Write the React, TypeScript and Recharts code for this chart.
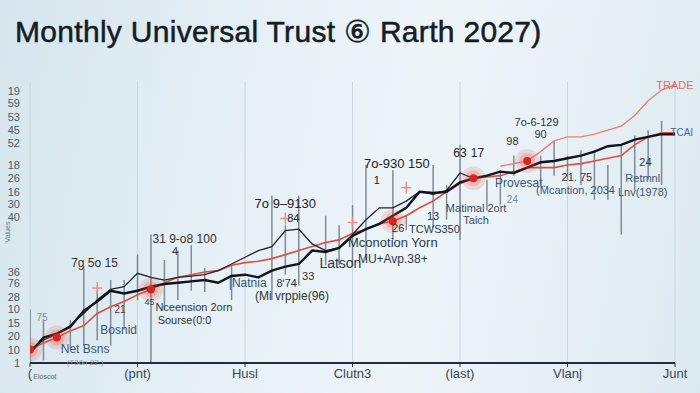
import React from "react";
import {
  ComposedChart,
  Line,
  Bar,
  XAxis,
  YAxis,
  CartesianGrid,
  ReferenceDot,
} from "recharts";

// x positions are month steps 0..48
const steps = Array.from({ length: 49 }, (_, i) => i);

const xTickValues = [0, 8, 16, 24, 32, 40, 48];
const xTickLabels = ["(", "(pnt)", "Husl", "Clutn3", "(last)", "Vlanj", "Junt"];

const yTickValues = [0, 1, 2, 3, 4, 4.9, 6, 6.8, 10.9, 11.9, 12.8, 13.8, 14.8, 16.4, 17.4, 18.4, 19.4, 20.3];
const yTickLabels = ["1", "10", "20", "15", "10", "28", "76", "36", "40", "30", "16", "26", "18", "52", "45", "53", "59", "19"];

const trustMain = [
  0.75, 1.9, 2.2, 2.7, 3.9, 4.6, 5.4, 5.2, 5.4, 5.7, 5.9, 6.0, 6.1, 6.2, 6.0, 6.5, 6.6,
  6.4, 6.9, 7.2, 7.4, 8.4, 8.3, 8.6, 9.5, 10.0, 10.4, 11.0, 11.6, 12.8, 12.7, 12.8, 13.5,
  13.8, 14.0, 14.3, 14.2, 14.6, 15.0, 15.1, 15.3, 15.5, 15.8, 16.2, 16.3, 16.7, 16.9, 17.1, 17.1,
];

const trustSecond = [
  1.0, 1.7, 2.2, 2.8, 3.7, 4.7, 5.5, 5.7, 6.7, 6.4, 6.2, 6.4, 6.5, 6.6, 6.9, 7.4, 7.9,
  8.4, 8.7, 9.9, 10.0, 8.9, 8.4, 8.6, 9.6, 10.7, 11.6, 11.6, 12.1, 12.8, 12.6, 12.9, 14.2,
  13.8, null, null, null, null, null, null, null, null, null, null, null, null, null, null, null,
];

const trustRed = [
  1.0, 1.5, 1.9, 2.4, 2.8, 3.7, 4.2, 4.6, 5.1, 5.5, 6.0, 6.4, 6.6, 6.8, 6.9, 7.3, 7.5,
  7.6, 7.8, 8.1, 8.4, 8.7, 9.0, 9.2, 9.7, 10.0, 10.4, 10.6, 11.0, 11.6, 12.1, 12.8, 13.4,
  13.8, 13.9, 14.0, 14.3, 14.6, 14.6, 14.6, 14.8, 14.9, 15.1, 15.3, 15.5, 16.3, 16.9, 17.2, 17.2,
];

const trade = [
  null, null, null, null, null, null, null, null, null, null, null, null, null, null, null, null, null,
  null, null, null, null, null, null, null, null, null, null, null, null, null, null, null, null,
  null, null, 14.7, 14.9, 15.1, 15.8, 16.6, 16.9, 16.9, 17.1, 17.4, 17.7, 18.5, 19.6, 20.4, 20.8,
];

// vertical range marks
const segLow = [
  0, 0.2, null, 1.0, 1.3, 1.7, 1.3, 2.5, 4.7, 0, 4.0, 4.7, 5.4, 5.3, null, 4.7, null,
  null, 4.7, 6.6, 5.8, null, 7.3, 7.3, 7.3, 7.7, null, 9.2, 9.9, null, 10.1, 10.7, 9.2,
  null, 11.4, 11.8, 14.0, null, 13.3, 14.0, 13.7, 13.3, 12.2, 12.2, 9.6, 12.9, 13.7, 13.3, null,
];
const segHigh = [
  4.0, 3.2, null, 3.2, 7.2, 5.4, 6.2, 6.2, 8.1, 9.6, 7.7, 8.4, 8.8, 7.1, null, 7.3, null,
  null, 12.5, 10.3, 12.5, null, 11.0, 10.3, 11.8, 14.8, null, 14.4, 11.0, null, 14.8, 13.3, 16.3,
  null, 13.7, 14.4, 15.5, null, 15.5, 16.6, 15.5, 15.9, 15.9, 14.8, 16.3, 17.0, 17.4, 18.1, null,
];

const glowSteps = [0, 2, 9, 27, 33, 37];
const crossPoints = [
  { i: 5, v: 5.6 },
  { i: 19, v: 10.8 },
  { i: 24, v: 10.5 },
  { i: 28, v: 13.1 },
];

const notes = [
  { i: 0.9, v: 3.4, t: "75", c: "#7a8c9e", s: 10 },
  { i: 6.6, v: 2.5, t: "Bosnid", c: "#3d5670", s: 12 },
  { i: 4.1, v: 1.05, t: "Net Bsns", c: "#3d5670", s: 12 },
  { i: 4.1, v: 0.05, t: "(T36n 22.)", c: "#8a9aa8", s: 8 },
  { i: 1.1, v: -1.0, t: "Eloscot", c: "#5a6a7a", s: 7 },
  { i: 4.8, v: 7.5, t: "7g 5o 15", c: "#333", s: 12 },
  { i: 11.5, v: 9.3, t: "31 9-o8 100", c: "#333", s: 12 },
  { i: 10.8, v: 8.4, t: "4", c: "#333", s: 11 },
  { i: 8.9, v: 4.6, t: "45", c: "#445", s: 9 },
  { i: 6.7, v: 4.0, t: "21", c: "#445", s: 10 },
  { i: 12.2, v: 4.2, t: "Nceension 2orn", c: "#333", s: 11 },
  { i: 11.5, v: 3.2, t: "Sourse(0:0", c: "#333", s: 11 },
  { i: 19.0, v: 11.9, t: "7o 9–9130", c: "#222", s: 13 },
  { i: 19.6, v: 10.8, t: "84", c: "#222", s: 11 },
  { i: 16.2, v: 6.0, t: "|Natnia", c: "#3d5670", s: 12 },
  { i: 19.1, v: 6.0, t: "8ʹ74", c: "#333", s: 11 },
  { i: 20.7, v: 6.5, t: "33", c: "#333", s: 11 },
  { i: 19.5, v: 5.0, t: "(Mi vrppie(96)", c: "#333", s: 12 },
  { i: 23.1, v: 7.5, t: "Latson", c: "#2c3a48", s: 14 },
  { i: 27.0, v: 9.05, t: "Mconotion Yorn", c: "#2c3a48", s: 13 },
  { i: 27.0, v: 7.8, t: "MU+Avp.38+", c: "#2c3a48", s: 12 },
  { i: 27.3, v: 14.9, t: "7o-930 150", c: "#222", s: 13 },
  { i: 25.8, v: 13.7, t: "1", c: "#222", s: 11 },
  { i: 27.4, v: 10.1, t: "26", c: "#333", s: 11 },
  { i: 30.0, v: 11.0, t: "13", c: "#333", s: 11 },
  { i: 30.1, v: 10.0, t: "TCWS350", c: "#2c3a48", s: 11 },
  { i: 33.2, v: 11.6, t: "Matimal 2ort", c: "#3d4c5c", s: 11 },
  { i: 33.2, v: 10.7, t: "Taich", c: "#3d4c5c", s: 11 },
  { i: 32.0, v: 15.7, t: "63", c: "#222", s: 12 },
  { i: 33.3, v: 15.7, t: "17", c: "#222", s: 12 },
  { i: 35.9, v: 12.2, t: "24", c: "#7890a5", s: 10 },
  { i: 35.9, v: 16.6, t: "98", c: "#333", s: 11 },
  { i: 37.7, v: 18.0, t: "7o-6-129", c: "#333", s: 11 },
  { i: 38.0, v: 17.1, t: "90", c: "#333", s: 11 },
  { i: 36.5, v: 13.45, t: "Provesat.", c: "#3d5670", s: 12 },
  { i: 40.6, v: 12.9, t: "(Mcantion, 2034", c: "#3d5670", s: 11 },
  { i: 40.7, v: 13.9, t: "21. 75", c: "#333", s: 11 },
  { i: 45.8, v: 15.0, t: "24", c: "#333", s: 11 },
  { i: 45.6, v: 13.8, t: "Retmnl", c: "#3d5670", s: 11 },
  { i: 45.6, v: 12.8, t: "Lnv(1978)", c: "#3d5670", s: 11 },
  { i: 48.5, v: 17.2, t: "TCAI", c: "#3a6fa0", s: 10 },
  { i: 48.0, v: 20.8, t: "TRADE", c: "#e07060", s: 11 },
];

const rows = steps.map((i) => ({
  i,
  main: trustMain[i],
  second: trustSecond[i],
  red: trustRed[i],
  trade: trade[i],
  seg: segLow[i] == null ? undefined : [segLow[i], segHigh[i]],
  glow: glowSteps.includes(i) ? (i === 37 ? trade[i] : trustRed[i]) : null,
  cross: crossPoints.find((p) => p.i === i)?.v ?? null,
}));

const GlowDot = (props: any) => {
  const { cx, cy, value, index } = props;
  if (value == null || cy == null) return <g key={`g${index}`} />;
  return (
    <g key={`g${index}`}>
      <circle cx={cx} cy={cy} r={12} fill="#e8453c" fillOpacity={0.16} />
      <circle cx={cx} cy={cy} r={8} fill="#e8453c" fillOpacity={0.2} />
      <circle cx={cx} cy={cy} r={4} fill="#d8261e" />
    </g>
  );
};

const CrossDot = (props: any) => {
  const { cx, cy, value, index } = props;
  if (value == null || cy == null) return <g key={`c${index}`} />;
  return (
    <g key={`c${index}`} stroke="#ef8a7e" strokeWidth={1.4}>
      <line x1={cx - 5} y1={cy} x2={cx + 5} y2={cy} />
      <line x1={cx} y1={cy - 6} x2={cx} y2={cy + 6} />
    </g>
  );
};

export default function App() {
  return (
    <div
      style={{
        position: "absolute",
        left: 0,
        top: 0,
        width: 700,
        height: 393,
        overflow: "hidden",
        fontFamily: "'Liberation Sans', Arial, sans-serif",
        background:
          "linear-gradient(100deg, #d6e5ee 0%, #e6f0f6 35%, #eef5f9 60%, #dde9f1 100%)",
      }}
    >
      <div
        style={{
          position: "absolute",
          left: 15,
          top: 12,
          fontSize: 30,
          lineHeight: "40px",
          letterSpacing: 0.3,
          color: "#141c26",
          WebkitTextStroke: "0.5px #141c26",
          whiteSpace: "nowrap",
        }}
      >
        Monthly Universal Trust ⑥ Rarth 2027)
      </div>
      <ComposedChart
        width={700}
        height={393}
        data={rows}
        margin={{ top: 82, right: 25, bottom: 5, left: 0 }}
        style={{ position: "absolute", left: 0, top: 0 }}
      >
        <CartesianGrid vertical horizontal={false} stroke="#c6d6e2" />
        <XAxis
          dataKey="i"
          type="number"
          domain={[0, 48]}
          ticks={xTickValues}
          tickFormatter={(v: number) => xTickLabels[xTickValues.indexOf(v)] ?? ""}
          tick={{ fontSize: 13, fill: "#3a4654" }}
          tickSize={4}
          tickLine={{ stroke: "#1f2d3d" }}
          axisLine={{ stroke: "#1f2d3d", strokeWidth: 2 }}
          height={25}
          allowDataOverflow
        />
        <YAxis
          type="number"
          domain={[0, 21]}
          ticks={yTickValues}
          interval={0}
          tickFormatter={(v: number) => yTickLabels[yTickValues.indexOf(v)] ?? ""}
          tick={{ fontSize: 11, fill: "#4a5866" }}
          tickLine={false}
          axisLine={false}
          tickMargin={4}
          width={30}
          label={{
            value: "Values",
            angle: -90,
            position: "insideLeft",
            offset: 8,
            dy: 20,
            style: { fontSize: 7, fill: "#6a7886" },
          }}
        />
        <Bar dataKey="seg" barSize={1.5} fill="#5d6a76" fillOpacity={0.75} isAnimationActive={false} />
        <Line
          dataKey="trade"
          stroke="#e9806f"
          strokeWidth={1.4}
          dot={false}
          activeDot={false}
          isAnimationActive={false}
        />
        <Line
          dataKey="red"
          stroke="#d9503f"
          strokeWidth={1.6}
          dot={false}
          activeDot={false}
          isAnimationActive={false}
        />
        <Line
          dataKey="second"
          stroke="#1c232b"
          strokeWidth={1.3}
          dot={false}
          activeDot={false}
          isAnimationActive={false}
        />
        <Line
          dataKey="main"
          stroke="#0f141a"
          strokeWidth={2.4}
          dot={false}
          activeDot={false}
          isAnimationActive={false}
        />
        <Line
          dataKey="glow"
          stroke="none"
          dot={GlowDot}
          activeDot={false}
          isAnimationActive={false}
        />
        <Line
          dataKey="cross"
          stroke="none"
          dot={CrossDot}
          activeDot={false}
          isAnimationActive={false}
        />
        {notes.map((n, k) => (
          <ReferenceDot
            key={k}
            x={n.i}
            y={n.v}
            r={0}
            fill="none"
            stroke="none"
            ifOverflow="visible"
            label={{ value: n.t, position: "center", fill: n.c, fontSize: n.s }}
          />
        ))}
      </ComposedChart>
    </div>
  );
}
